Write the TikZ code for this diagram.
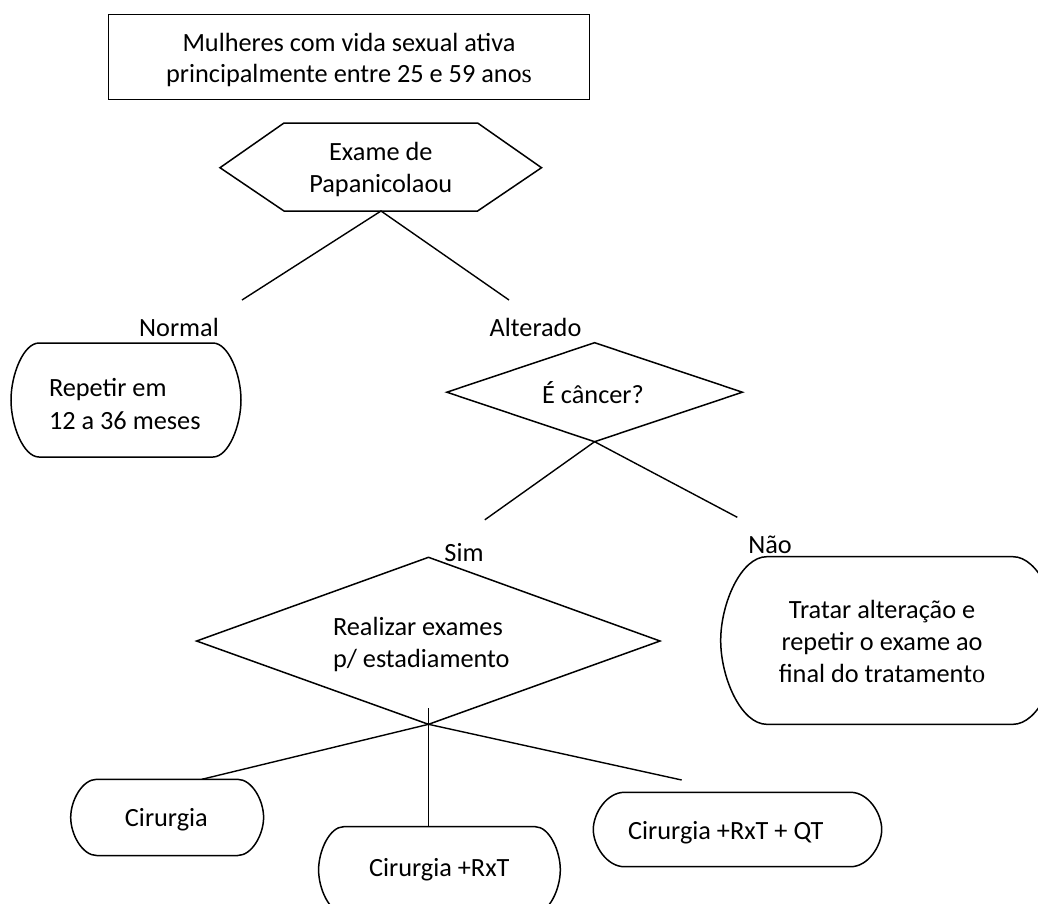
\documentclass[tikz,border=0pt]{standalone}
\usepackage{fontspec}
\setmainfont{Carlito}
\newfontfamily\serfont{Liberation Serif}
\newcommand{\tl}[2]{\begin{tabular}[t]{@{}#1@{}}#2\end{tabular}}
\newcommand\termbox[5]{%
  \draw[shp] ({#1+#5},#2) -- ({#3-#5},#2)
    .. controls ({#3-0.448*#5},#2) and (#3,{#2+0.276*(#4-#2)}) .. (#3,{(#2+#4)/2})
    .. controls (#3,{#4-0.276*(#4-#2)}) and ({#3-0.448*#5},#4) .. ({#3-#5},#4)
    -- ({#1+#5},#4)
    .. controls ({#1+0.448*#5},#4) and (#1,{#4-0.276*(#4-#2)}) .. (#1,{(#2+#4)/2})
    .. controls (#1,{#2+0.276*(#4-#2)}) and ({#1+0.448*#5},#2) .. cycle;}
\tikzset{
  shp/.style={draw=black, line width=1.5pt, line join=miter},
  conn/.style={draw=black, line width=1.4pt},
  txt/.style={inner sep=0pt, outer sep=0pt, font=\fontsize{26.3pt}{32pt}\selectfont, text=black},
}
\begin{document}
\begin{tikzpicture}[x=1pt,y=-1pt]
\useasboundingbox[fill=white] (0,0) rectangle (1038,903);
\clip (0,0) rectangle (1038,903);

% top box
\draw[shp] (108.7,14.3) rectangle (589.4,99.3);
\node[txt,anchor=base] (top) at (349,51.7) {\tl{c}{Mulheres com vida sexual ativa\\[-1pt]principalmente entre 25 e 59 ano{\serfont s}}};

% hexagon
\draw[shp] (220,167.7) -- (284,123) -- (477.6,123) -- (541.5,167.7) -- (477.6,211) -- (284,211) -- cycle;
\node[txt,anchor=base] (pap) at (380.8,160.7) {\tl{c}{Exame de\\Papanicolaou}};
\coordinate (hexB) at (381,211);
\coordinate (nEnd) at (242,300);
\coordinate (aEnd) at (509,300);
\draw[conn] (nEnd) -- (hexB) -- (aEnd);

\node[txt,anchor=base] (normal) at (179,336.7) {Normal};
\node[txt,anchor=base] (alterado) at (535.5,336.7) {Alterado};

% Repetir box
\termbox{11}{343}{241}{457}{28}
\node[txt,anchor=base west] (repetir) at (49,396) {\tl{l}{Repetir em\\[1pt]12 a 36 meses}};

% diamond E cancer
\draw[shp] (594.6,342.7) -- (742.4,392.2) -- (594.6,441.7) -- (446.8,392.2) -- cycle;
\node[txt,anchor=base] (cancer) at (593,403.3) {É câncer?};
\coordinate (dcB) at (594.6,441.7);
\coordinate (simEnd) at (484.8,519.8);
\coordinate (naoEnd) at (737.3,517.3);
\draw[conn] (simEnd) -- (dcB) -- (naoEnd);

\node[txt,anchor=base] (sim) at (464,561.7) {Sim};
\node[txt,anchor=base] (nao) at (770,553.3) {Não};

% Tratar box
\termbox{720.7}{556.7}{1059}{724.3}{46}
\node[txt,anchor=base] (tratar) at (882,618.3) {\tl{c}{Tratar alteração e\\repetir o exame ao\\final do tratament{\serfont o}}};

% diamond Realizar
\draw[shp] (428.5,557.3) -- (660,641) -- (428.5,724.3) -- (196.6,641) -- cycle;
\node[txt,anchor=base west] (realizar) at (333,635) {\tl{l}{Realizar exames\\p/ estadiamento}};
\coordinate (drB) at (428.5,724.3);
\coordinate (vTop) at (428.5,708.3);
\coordinate (rxtTop) at (428.5,826.7);
\coordinate (cirEnd) at (201.8,779.3);
\coordinate (qtEnd) at (681.7,780);
\draw[conn] (cirEnd) -- (drB) -- (qtEnd);
\draw[conn] (vTop) -- (rxtTop);

% bottom boxes
\termbox{70.7}{779.3}{263.6}{855.5}{26}
\node[txt,anchor=base] (cir) at (166.4,826.7) {Cirurgia};
\termbox{318.6}{826.7}{560.3}{913}{25}
\node[txt,anchor=base] (cirrxt) at (439.3,876.7) {Cirurgia +RxT};
\termbox{593.3}{792.3}{881.7}{866.7}{31}
\node[txt,anchor=base] (cirqt) at (725.8,839.5) {Cirurgia +RxT + QT};
\end{tikzpicture}
\end{document}
